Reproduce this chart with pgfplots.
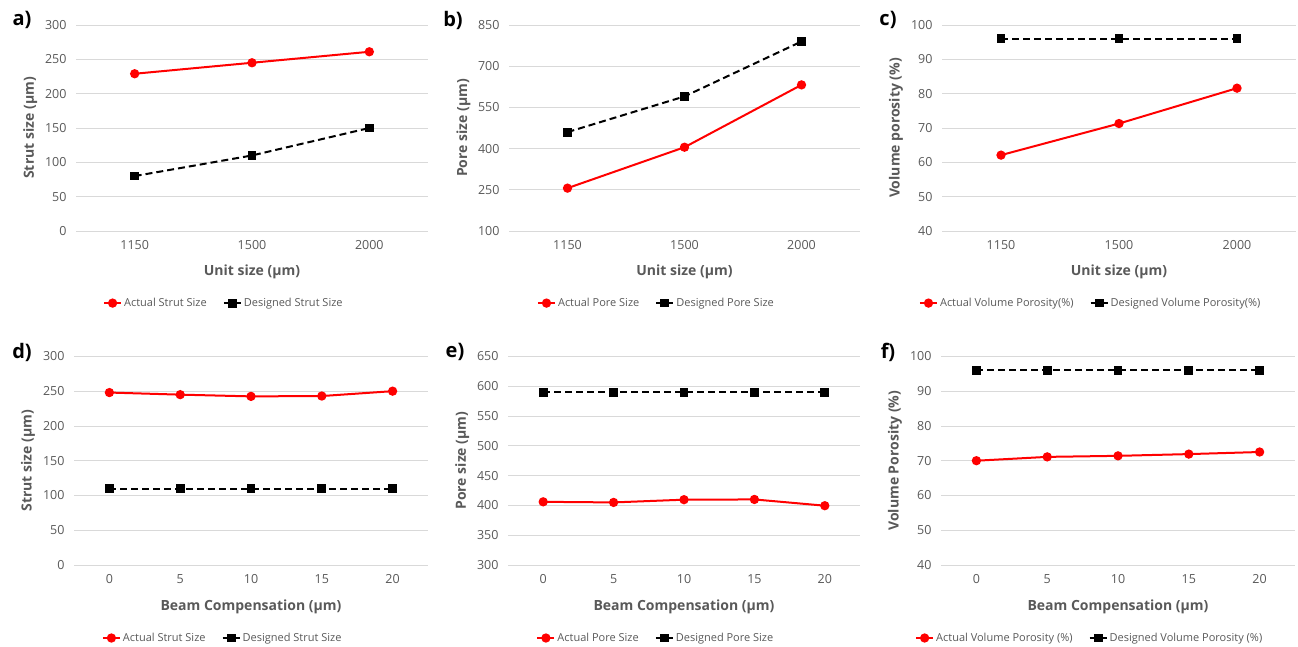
\documentclass[border=0pt]{standalone}
\usepackage{fontspec}
\setmainfont{Open Sans}
\usepackage{pgfplots}
\pgfplotsset{compat=1.18}
\definecolor{tickgray}{HTML}{595959}
\definecolor{gridgray}{HTML}{D9D9D9}
\pgfplotsset{
  panel/.style={
    scale only axis,
    anchor=south west,
    axis line style={draw=none},
    major tick length=0pt,
    ymajorgrids,
    grid style={gridgray, line width=0.8pt},
    tick label style={font=\fontsize{12.5}{14}\selectfont, text=tickgray},
    /pgf/number format/assume math mode=true,
    yticklabel style={xshift=-6pt},
    xticklabel style={yshift=-6pt},
    label style={font=\bfseries\fontsize{14}{16}\selectfont, text=tickgray},
    xlabel style={at={(axis description cs:0.5,-0.2)}, anchor=center},
    ylabel style={at={(axis description cs:-0.13,0.5)}, anchor=center},
    legend style={draw=none, fill=none, font=\fontsize{11}{13}\selectfont, text=tickgray,
      legend columns=2, /tikz/every even column/.append style={column sep=14pt},
      at={(axis description cs:0.42,-0.35)}, anchor=center},
    legend cell align=left,
    clip=false,
  },
  actual/.style={red, line width=2pt, mark=*, mark size=3.6pt, mark options={solid}},
  designed/.style={black, line width=2pt, dash pattern=on 7pt off 4pt, mark=square*, mark size=3.4pt, mark options={solid}},
  topcat/.style={xmin=-0.5, xmax=2.5, xtick={0,1,2}, xticklabels={1150,1500,2000}, xlabel={Unit size (µm)}},
  botcat/.style={xmin=-2.5, xmax=22.5, xtick={0,5,10,15,20}, xlabel={Beam Compensation (µm)}},
}
\begin{document}
\begin{tikzpicture}
\path[use as bounding box] (0pt,0pt) rectangle (1298pt,646pt);
% a
\begin{axis}[panel, topcat, at={(76pt,415pt)}, width=352pt, height=206pt,
  ymin=0, ymax=300, ytick={0,50,...,300}, ylabel={Strut size (µm)}]
\addplot[actual] coordinates {(0,229) (1,245) (2,261)};
\addlegendentry{Actual Strut Size}
\addplot[designed] coordinates {(0,80) (1,110) (2,150)};
\addlegendentry{Designed Strut Size}
\end{axis}
% b
\begin{axis}[panel, topcat, at={(509pt,415pt)}, width=351pt, height=206pt,
  ymin=100, ymax=850, ytick={100,250,...,850}, ylabel={Pore size (µm)}]
\addplot[actual] coordinates {(0,256) (1,405) (2,632)};
\addlegendentry{Actual Pore Size}
\addplot[designed] coordinates {(0,460) (1,590) (2,790)};
\addlegendentry{Designed Pore Size}
\end{axis}
% c
\begin{axis}[panel, topcat, at={(942pt,415pt)}, width=354pt, height=206pt,
  ymin=40, ymax=100, ytick={40,50,...,100}, ylabel={Volume porosity (\%)}]
\addplot[actual] coordinates {(0,62.1) (1,71.3) (2,81.6)};
\addlegendentry{Actual Volume Porosity(\%)}
\addplot[designed] coordinates {(0,96) (1,96) (2,96)};
\addlegendentry{Designed Volume Porosity(\%)}
\end{axis}
% d
\begin{axis}[panel, botcat, at={(74pt,81pt)}, width=354pt, height=208.6pt,
  ymin=0, ymax=300, ytick={0,50,...,300}, ylabel={Strut size (µm)}]
\addplot[actual] coordinates {(0,248) (5,245) (10,242.5) (15,243) (20,250)};
\addlegendentry{Actual Strut Size}
\addplot[designed] coordinates {(0,110) (5,110) (10,110) (15,110) (20,110)};
\addlegendentry{Designed Strut Size}
\end{axis}
% e
\begin{axis}[panel, botcat, at={(508pt,81pt)}, width=352pt, height=208.6pt,
  ymin=300, ymax=650, ytick={300,350,...,650}, ylabel={Pore size (µm)}]
\addplot[actual] coordinates {(0,406) (5,405) (10,409.6) (15,410) (20,399.5)};
\addlegendentry{Actual Pore Size}
\addplot[designed] coordinates {(0,590) (5,590) (10,590) (15,590) (20,590)};
\addlegendentry{Designed Pore Size}
\end{axis}
% f
\begin{axis}[panel, botcat, at={(941pt,81pt)}, width=354pt, height=208.6pt,
  ymin=40, ymax=100, ytick={40,50,...,100}, ylabel={Volume Porosity (\%)}]
\addplot[actual] coordinates {(0,70) (5,71.1) (10,71.4) (15,71.9) (20,72.5)};
\addlegendentry{Actual Volume Porosity (\%)}
\addplot[designed] coordinates {(0,96) (5,96) (10,96) (15,96) (20,96)};
\addlegendentry{Designed Volume Porosity (\%)}
\end{axis}
\begin{scope}[font=\bfseries\fontsize{20}{24}\selectfont]
\node at (22pt,626pt) {a)};
\node at (453pt,626pt) {b)};
\node at (888pt,626pt) {c)};
\node at (22pt,294pt) {d)};
\node at (455pt,294pt) {e)};
\node at (888pt,294pt) {f)};
\end{scope}
\end{tikzpicture}
\end{document}
